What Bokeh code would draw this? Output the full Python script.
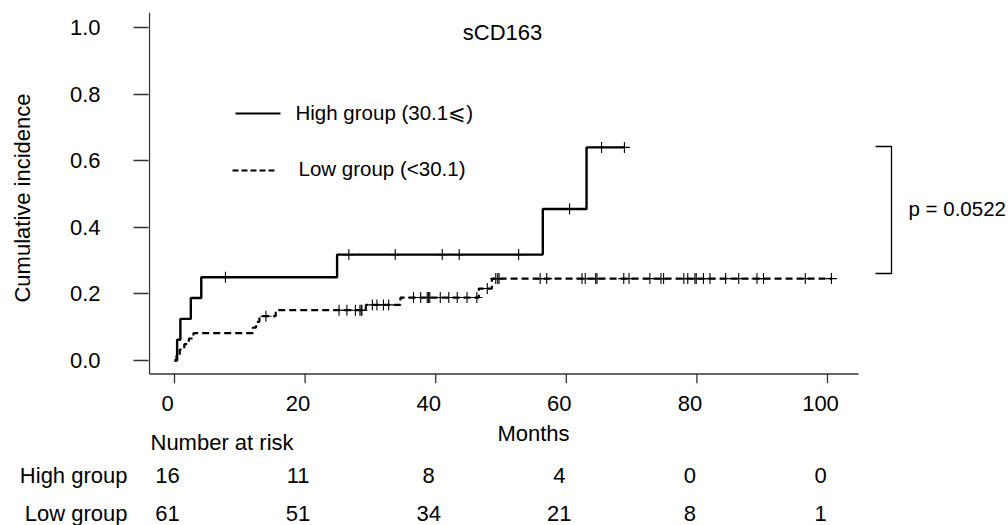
import numpy as np
from bokeh.plotting import figure
from bokeh.layouts import column
from bokeh.models import (Range1d, LinearAxis, FixedTicker, NumeralTickFormatter, Label)
from bokeh.core.properties import value
from bokeh.embed import file_html
from bokeh.resources import INLINE

# ---------------- data ----------------
chart_title = "sCD163"
x_label = "Months"
y_label = "Cumulative incidence"
p_text = "p = 0.0522"
high_name = "High group (30.1\u2a7d)"
low_name = "Low group (<30.1)"

# High group: step times / cumulative incidence after each step
high_step_t = [0.0, 0.4, 0.9, 2.5, 4.1, 24.9, 56.4, 63.1]
high_step_ci = [0.0, 0.0625, 0.125, 0.1875, 0.25, 0.318, 0.455, 0.64]
high_censor_t = [7.8, 26.7, 33.8, 41.0, 43.6, 52.7, 60.5, 65.4, 68.9]

# Low group
low_step_t = [0.0, 0.3, 0.8, 1.5, 2.2, 2.9, 12.0, 12.5, 13.0, 15.5, 29.3, 34.6, 46.6, 48.6]
low_step_ci = [0.0, 0.016, 0.033, 0.049, 0.066, 0.082, 0.099, 0.116, 0.133, 0.151,
               0.167, 0.189, 0.216, 0.246]
low_censor_t = [14.0, 25.2, 26.4, 27.7, 28.4, 28.6, 28.7, 30.3, 31.0, 32.0, 32.8,
                36.6, 37.7, 38.7, 38.9, 39.1,
                40.7, 42.0, 43.3, 44.8, 46.3, 47.9, 49.2, 49.5, 49.7, 56.0, 57.0,
                62.4, 62.9, 64.5, 64.7, 68.8, 69.6, 72.8, 74.5, 74.9, 78.0, 78.6, 79.7, 79.9,
                81.0, 82.0, 84.4, 86.4, 89.2, 90.2, 96.6, 100.6]

x_ticks = [0, 20, 40, 60, 80, 100]
y_ticks = [0.0, 0.2, 0.4, 0.6, 0.8, 1.0]

risk_title = "Number at risk"
risk_row_names = ["High group", "Low group"]
risk_times = [0, 20, 40, 60, 80, 100]
high_risk = [16, 11, 8, 4, 0, 0]
low_risk = [61, 51, 34, 21, 8, 1]

# ---------------- layout (pixels) ----------------
W, H = 1008, 525
H1 = 422                                  # height of the plot part
FL, FR, FT, FB = 148, 1008, 12, 383       # frame edges of the plot part
X0_PX, X_SCALE = 174.0, 6.53              # px of month 0, px per month
Y0_PX, Y_SCALE = 360.0, 333.0             # px of 0.0, px per unit
ROW_Y = [475, 513]                        # page y of the two table rows


def tx(px):
    return (px - X0_PX) / X_SCALE


def vy(py):
    return (Y0_PX - py) / Y_SCALE


FONT = "Liberation Sans"
FS = "22px"
FS_SMALL = "20.5px"
AXIS_COLOR = "#333333"
AW = 1.3

p = figure(width=W, height=H1, x_range=Range1d(tx(FL), tx(FR)), y_range=Range1d(vy(FB), vy(FT)),
           output_backend="svg", toolbar_location=None, x_axis_location=None,
           min_border_left=FL, min_border_right=W - FR, min_border_top=FT,
           min_border_bottom=H1 - FB,
           outline_line_color=None, background_fill_color="white", border_fill_color="white")
p.grid.visible = False

# y axis (left): ticks + labels + title
ya = p.yaxis[0]
ya.ticker = FixedTicker(ticks=y_ticks)
ya.formatter = NumeralTickFormatter(format="0.0")
ya.axis_line_color = None
ya.major_tick_line_color = AXIS_COLOR
ya.major_tick_line_width = AW
ya.major_tick_out = 15
ya.major_tick_in = 0
ya.minor_tick_line_color = None
ya.major_label_standoff = 33
ya.major_label_text_font = FONT
ya.major_label_text_font_size = FS
ya.major_label_text_color = "black"
ya.axis_label = y_label
ya.axis_label_text_font = FONT
ya.axis_label_text_font_size = FS
ya.axis_label_text_font_style = "normal"
ya.axis_label_text_color = "black"
ya.axis_label_standoff = 32

# x tick labels (sit a little left of their tick marks in the reference)
shift = 7.0 / X_SCALE
p.extra_x_ranges = {"lab": Range1d(tx(FL) + shift, tx(FR) + shift)}
xb = LinearAxis(x_range_name="lab", ticker=FixedTicker(ticks=x_ticks))
xb.axis_line_color = None
xb.major_tick_line_color = None
xb.minor_tick_line_color = None
xb.major_tick_out = 0
xb.major_tick_in = 0
xb.major_label_standoff = 12
xb.major_label_text_font = FONT
xb.major_label_text_font_size = FS
xb.major_label_text_color = "black"
p.add_layout(xb, "below")

# axis lines (L-shaped box) and x tick marks
p.segment(x0=[tx(149)], y0=[vy(12)], x1=[tx(149)], y1=[vy(373.5)],
          line_color=AXIS_COLOR, line_width=AW)
p.segment(x0=[tx(149)], y0=[vy(373.5)], x1=[tx(858)], y1=[vy(373.5)],
          line_color=AXIS_COLOR, line_width=AW)
p.segment(x0=x_ticks, y0=[vy(373.5)] * len(x_ticks), x1=x_ticks, y1=[vy(383)] * len(x_ticks),
          line_color=AXIS_COLOR, line_width=AW)


def ci_at(ts, cis, t):
    idx = np.searchsorted(np.asarray(ts), t, side="right") - 1
    return [cis[i] for i in idx]


# curves
hx = high_step_t + [high_censor_t[-1]]
hy = high_step_ci + [high_step_ci[-1]]
p.step(hx, hy, mode="after", line_color="black", line_width=2.4)
p.scatter(high_censor_t, ci_at(high_step_t, high_step_ci, high_censor_t), marker="cross",
          size=11, line_color="black", line_width=1.1)

lx = low_step_t + [low_censor_t[-1]]
ly = low_step_ci + [low_step_ci[-1]]
p.step(lx, ly, mode="after", line_color="black", line_width=2.2, line_dash="7 4")
p.scatter(low_censor_t, ci_at(low_step_t, low_step_ci, low_censor_t), marker="cross",
          size=11, line_color="black", line_width=1.1)

# legend (manual, as in the reference)
p.line([tx(235), tx(280)], [vy(113), vy(113)], line_color="black", line_width=2.2)
p.line([tx(232), tx(275)], [vy(170), vy(170)], line_color="black", line_width=2.2,
       line_dash="6 3")


def lab(fig, text, x, y, align="left", size=FS):
    fig.add_layout(Label(x=x, y=y, text=text, text_font=FONT, text_font_size=size,
                         text_color="black", text_align=align, text_baseline="middle"))


lab(p, high_name, tx(295), vy(112), size=FS_SMALL)
lab(p, low_name, tx(298), vy(168), size=FS_SMALL)
lab(p, chart_title, tx(502), vy(32), "center")
lab(p, p_text, tx(908), vy(208), size=FS_SMALL)

# bracket for p value
p.line([tx(875), tx(891), tx(891), tx(875)], [vy(146), vy(146), vy(273), vy(273)],
       line_color="black", line_width=AW)

# ---------------- number-at-risk table (frame aligned with the plot above) ----------------
t = figure(width=W, height=H - H1, x_range=p.x_range, y_range=Range1d(H, H1),
           output_backend="svg", toolbar_location=None, x_axis_location=None,
           min_border_left=FL, min_border_right=W - FR, min_border_top=0, min_border_bottom=0,
           outline_line_color=None, background_fill_color="white", border_fill_color="white")
t.grid.visible = False

# row names as the table's left-axis labels
ta = t.yaxis[0]
ta.ticker = FixedTicker(ticks=ROW_Y)
ta.major_label_overrides = {ROW_Y[0]: risk_row_names[0], ROW_Y[1]: risk_row_names[1]}
ta.axis_line_color = None
ta.major_tick_line_color = None
ta.minor_tick_line_color = None
ta.major_tick_out = 0
ta.major_tick_in = 0
ta.major_label_standoff = 21
ta.major_label_text_font = FONT
ta.major_label_text_font_size = FS
ta.major_label_text_color = "black"

tfont = dict(text_font=value(FONT), text_font_size=value(FS), text_color="black",
             text_baseline="middle")
t.text(x=[tx(533)], y=[433], text=[x_label], text_align="center", **tfont)
t.text(x=[tx(150)], y=[442], text=[risk_title], text_align="left", **tfont)
t.text(x=risk_times, y=[ROW_Y[0]] * len(risk_times), text=[str(v) for v in high_risk],
       text_align="center", x_offset=-7, **tfont)
t.text(x=risk_times, y=[ROW_Y[1]] * len(risk_times), text=[str(v) for v in low_risk],
       text_align="center", x_offset=-7, **tfont)

layout = column(p, t, spacing=0)
open("out.html", "w").write(file_html(layout, INLINE))
